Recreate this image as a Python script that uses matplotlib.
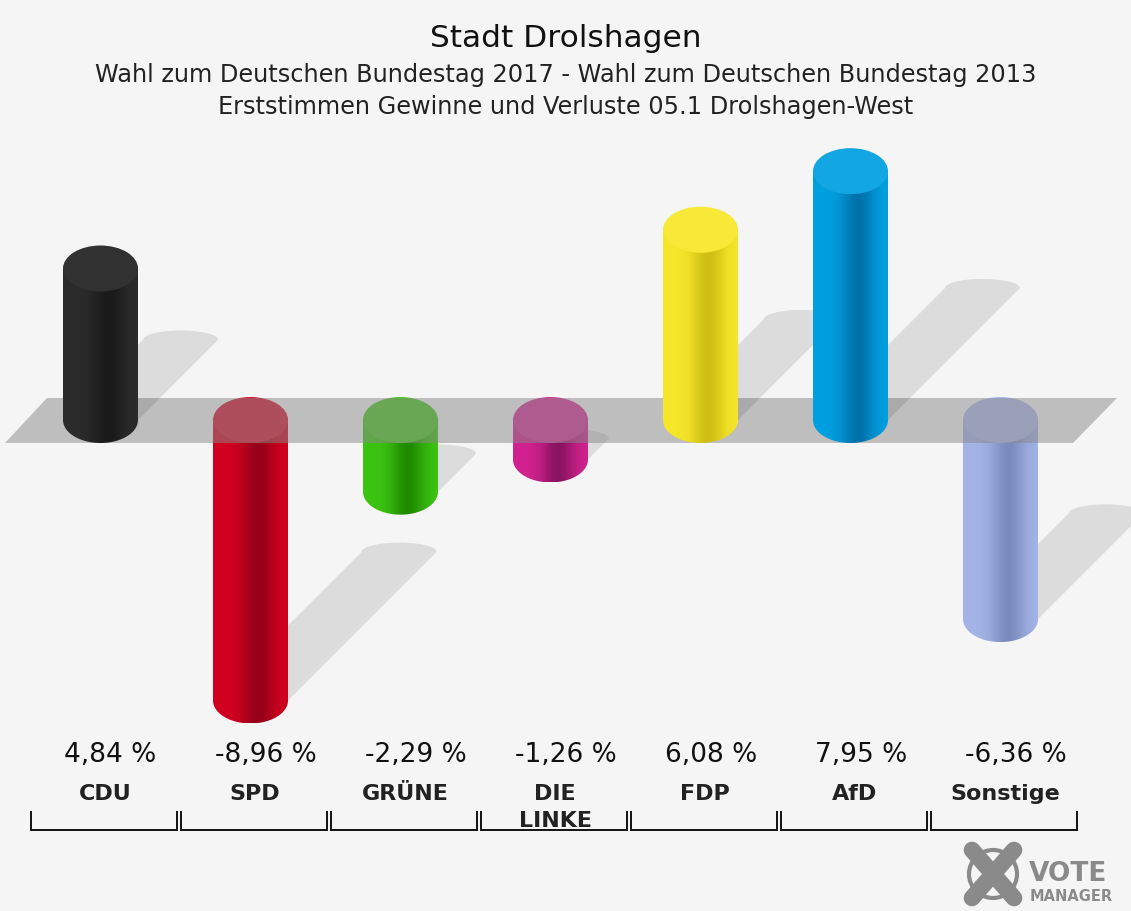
import matplotlib
matplotlib.use("Agg")
import matplotlib.pyplot as plt
import numpy as np
from matplotlib.path import Path
from matplotlib.patches import PathPatch, Ellipse, Polygon
from matplotlib.colors import to_rgb

plt.rcParams['font.family'] = ['DejaVu Sans']

# data
parties = ["CDU", "SPD", "GRÜNE", "DIE\nLINKE", "FDP", "AfD", "Sonstige"]
changes = [4.84, -8.96, -2.29, -1.26, 6.08, 7.95, -6.36]
base_cols = ["#2c2c2c", "#d2001f", "#3cc412", "#d2228f", "#f7e72a", "#00a0e0", "#a5b4e6"]
dark_cols = ["#1a1a1a", "#960018", "#1f8a00", "#8a1462", "#cfbf14", "#0072aa", "#7b8bbd"]

title = "Stadt Drolshagen"
sub1 = "Wahl zum Deutschen Bundestag 2017 - Wahl zum Deutschen Bundestag 2013"
sub2 = "Erststimmen Gewinne und Verluste 05.1 Drolshagen-West"

# layout in pixels
W, H = 1131, 911
X0, DX = 100.5, 150.0     # px of first category, px per category
Y0, DY = 420.0, 31.3      # px of zero line, px per percent
BW = 0.5                  # bar width (categories)
RY = 23.0 / DY            # cap half height (percent units)


def px2x(p):
    return (p - X0) / DX


def px2y(p):
    return (Y0 - p) / DY


fig = plt.figure(figsize=(W / 100, H / 100), dpi=100, facecolor="#f5f5f5")
ax = fig.add_axes([0, 0, 1, 1])
ax.set_facecolor("#f5f5f5")
ax.axis("off")

x = np.arange(len(parties))


def shadow(c, v):
    w = BW / 2
    by = 0 if v > 0 else v
    L = 0.53 * abs(v) * DY          # length in px along 45 deg
    dx, dy = L / DX, L / DY
    tx, ty = c + dx, by + dy
    th = np.linspace(0, np.pi, 40)
    arc = np.column_stack([tx + w * np.cos(th), ty + 0.4 * RY * np.sin(th)])
    verts = np.vstack([[c - w, by], [c + w, by], arc, [[c - w, by]]])
    ax.add_patch(Polygon(verts, closed=True, facecolor="black", alpha=0.1,
                         edgecolor="none", zorder=4 if v > 0 else 1))


def cylinder(c, v, base, dark, z):
    w = BW / 2
    lo, hi = min(0, v), max(0, v)
    th = np.linspace(0, -np.pi, 60)
    arc = np.column_stack([c + w * np.cos(th), lo + RY * np.sin(th)])
    verts = np.vstack([[c - w, hi], [c + w, hi], arc, [[c - w, hi]]])
    patch = PathPatch(Path(verts), facecolor="none", edgecolor="none", zorder=z)
    ax.add_patch(patch)
    t = np.linspace(0, 1, 200)
    f = np.exp(-((t - 0.6) / 0.22) ** 2)
    b, d = np.array(to_rgb(base)), np.array(to_rgb(dark))
    grad = (b[None, :] * (1 - f[:, None]) + d[None, :] * f[:, None])[None, :, :]
    im = ax.imshow(grad, extent=[c - w, c + w, lo - RY, hi], aspect="auto",
                   interpolation="bilinear", zorder=z)
    im.set_clip_path(patch)
    cap = 0.93 * b + 0.07 if base != "#2c2c2c" else b + 0.02
    ax.add_patch(Ellipse((c, hi), 2 * w, 2 * RY, facecolor=np.clip(cap, 0, 1),
                         edgecolor="none", zorder=z + 0.1))


for i, v in enumerate(changes):
    z = 2 if v < 0 else 5
    cylinder(x[i], v, base_cols[i], dark_cols[i], z)
    shadow(x[i], v)

# grey zero plane
band = [(px2x(5), px2y(443)), (px2x(47), px2y(398)),
        (px2x(1117), px2y(398)), (px2x(1073), px2y(443))]
ax.add_patch(Polygon(band, closed=True, facecolor="#888888", alpha=0.5,
                     edgecolor="none", zorder=3))

# labels
for i, v in enumerate(changes):
    ax.text(x[i] - 36 / DX, px2y(762), f"{v:.2f}".replace(".", ",") + " %", ha="left",
            va="baseline", fontsize=19, color="#111111")
    lines = parties[i].split("\n")
    for k, s in enumerate(lines):
        ax.text(x[i] + 4.5 / DX, px2y(800 + 27 * k), s, ha="center", va="baseline",
                fontsize=16, fontweight="bold", color="#222222")
    # bracket
    l, r = x[i] - 70 / DX, x[i] + 76 / DX
    ax.plot([l, l, r, r], [px2y(812), px2y(830), px2y(830), px2y(812)],
            color="#111111", lw=1.4, solid_joinstyle="miter", zorder=6)

# titles
fig.text(0.5, 1 - 47 / H, title, ha="center", va="baseline", fontsize=22.5, color="#111111")
fig.text(0.5, 1 - 82 / H, sub1, ha="center", va="baseline", fontsize=17.3, color="#222222")
fig.text(0.5, 1 - 114 / H, sub2, ha="center", va="baseline", fontsize=17.3, color="#222222")

# VoteManager logo
lg = "#8a8a8a"
ax.add_patch(Ellipse((px2x(993), px2y(874)), 48 / DX, 48 / DY, fill=False,
                     edgecolor=lg, lw=3, zorder=6))
ax.plot([px2x(972), px2x(1014)], [px2y(850), px2y(898)], color=lg, lw=12,
        solid_capstyle="round", zorder=7)
ax.plot([px2x(1014), px2x(972)], [px2y(850), px2y(898)], color=lg, lw=12,
        solid_capstyle="round", zorder=7)
ax.text(px2x(1029), px2y(881), "VOTE", ha="left", va="baseline", fontsize=19,
        fontweight="bold", color=lg)
ax.text(px2x(1030), px2y(901), "MANAGER", ha="left", va="baseline", fontsize=10.5,
        fontweight="bold", color=lg)

ax.set_xlim(px2x(0), px2x(W))
ax.set_ylim(px2y(H), px2y(0))
fig.savefig("out.png", dpi=100, facecolor=fig.get_facecolor())
